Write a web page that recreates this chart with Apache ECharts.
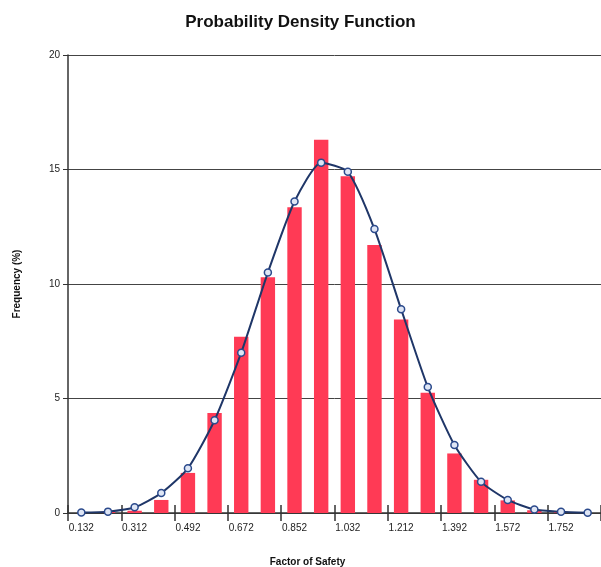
<!DOCTYPE html>
<html><head><meta charset="utf-8">
<script src="https://cdn.jsdelivr.net/npm/echarts@6/dist/echarts.min.js"></script>
<style>html,body{margin:0;padding:0;background:#fff}#c{width:601px;height:567px}</style>
</head><body><div id="c"></div>
<script>
var categories = ['0.132','0.222','0.312','0.402','0.492','0.582','0.672','0.762','0.852','0.942','1.032','1.122','1.212','1.302','1.392','1.482','1.572','1.662','1.752','1.842'];
var barValues = [0, 0.05, 0.1, 0.57, 1.75, 4.37, 7.7, 10.3, 13.35, 16.3, 14.7, 11.7, 8.45, 5.25, 2.6, 1.45, 0.55, 0.12, 0.05, 0];
var fitValues = [0.02, 0.06, 0.25, 0.87, 1.95, 4.05, 7.0, 10.5, 13.6, 15.3, 14.9, 12.4, 8.9, 5.5, 2.97, 1.36, 0.57, 0.15, 0.05, 0.01];
var yTicks = [0, 5, 10, 15, 20];

var chart = echarts.init(document.getElementById('c'));
var font = 'Liberation Sans, Arial, sans-serif';
chart.setOption({
  animation: false,
  title: {text: 'Probability Density Function', left: 'center', top: 9,
    textStyle: {fontFamily: font, fontSize: 17, fontWeight: 'bold', color: '#111'}},
  grid: {left: 68, right: 0, top: 55, bottom: 54, outerBoundsMode: 'none', containLabel: false},
  xAxis: [{
    type: 'category', data: categories, boundaryGap: true,
    name: 'Factor of Safety', nameLocation: 'middle', nameGap: 44,
    nameTextStyle: {fontFamily: font, fontSize: 10, fontWeight: 'bold', color: '#111', padding: [0, 54, 0, 0]},
    axisLine: {lineStyle: {color: '#333', width: 1.5}},
    axisTick: {show: true, length: 8, lineStyle: {color: '#333', width: 1.5}},
    axisLabel: {interval: 1, fontFamily: font, fontSize: 10, color: '#222', margin: 10}
  }, {
    type: 'category', data: categories, boundaryGap: true, position: 'bottom',
    axisLine: {show: false},
    axisTick: {show: true, inside: true, length: 8, lineStyle: {color: '#333', width: 1.5}},
    axisLabel: {show: false}
  }],
  yAxis: {
    type: 'value', min: 0, max: 20, interval: 5,
    name: 'Frequency (%)', nameLocation: 'middle', nameGap: 46,
    nameTextStyle: {fontFamily: font, fontSize: 10, fontWeight: 'bold', color: '#111'},
    axisLine: {show: true, lineStyle: {color: '#333', width: 1.5}},
    axisTick: {show: true, length: 5, lineStyle: {color: '#333'}},
    axisLabel: {fontFamily: font, fontSize: 10, color: '#222', margin: 8,
      formatter: function (v) { return yTicks.indexOf(v) >= 0 ? String(v) : ''; }},
    splitLine: {show: true, lineStyle: {color: '#444', width: 1}}
  },
  series: [{
    type: 'bar', data: barValues, barWidth: '54%',
    itemStyle: {color: '#ff3a55'}
  }, {
    type: 'line', data: fitValues, smooth: 0.2,
    symbol: 'circle', symbolSize: 7,
    itemStyle: {color: '#dfe6f5', borderColor: '#2b4a8c', borderWidth: 1.5},
    lineStyle: {color: '#1f3668', width: 2}
  }]
});
</script></body></html>
